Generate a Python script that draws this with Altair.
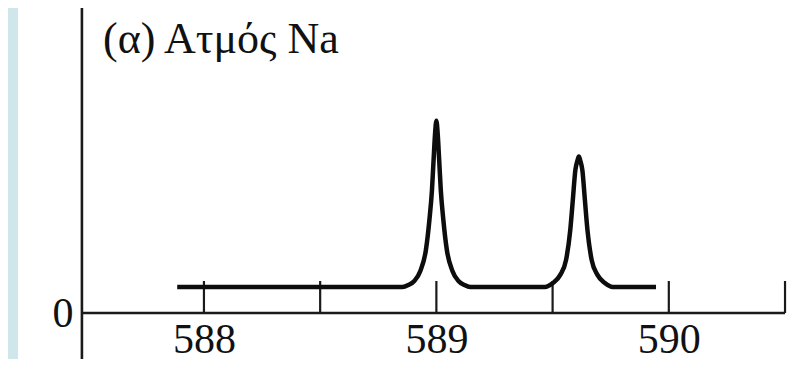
import altair as alt
import pandas as pd

# ---- data ----
wavelength = [587.885, 588.854, 588.880, 588.905, 588.931, 588.955, 588.970, 588.981,
              588.988, 588.994, 589.000, 589.006, 589.012, 589.019, 589.030, 589.045,
              589.069, 589.095, 589.120, 589.146,
              589.467, 589.501, 589.533, 589.558, 589.576, 589.587, 589.598, 589.607,
              589.613, 589.619, 589.628, 589.639, 589.650, 589.668, 589.693, 589.725,
              589.759, 589.945]
intensity = [0.85, 0.85, 0.92, 1.05, 1.38, 2.07, 3.05, 4.03,
             5.02, 5.84, 6.30, 5.84, 5.02, 4.03, 3.05, 2.07,
             1.38, 1.05, 0.92, 0.85,
             0.85, 0.98, 1.25, 1.74, 2.72, 3.70, 4.69, 5.00,
             5.13, 5.00, 4.69, 3.70, 2.72, 1.74, 1.25, 0.98,
             0.85, 0.85]

tick_positions = [588.0, 588.5, 589.0, 589.5, 590.0, 590.5]
tick_height = 1.05
label_values = [588, 589, 590]
axis_start = 587.475
axis_end = 590.5
y_axis_bottom = -1.6
y_axis_top = 10.0
title_text = "(α) Ατμός Na"

spectrum = pd.DataFrame({"x": wavelength, "y": intensity})
ticks = pd.DataFrame({"x": tick_positions, "y": [0.0] * len(tick_positions),
                      "y2": [tick_height] * len(tick_positions)})
x_axis_line = pd.DataFrame({"x": [axis_start], "x2": [axis_end], "y": [0.0]})
y_axis_line = pd.DataFrame({"x": [axis_start], "y": [y_axis_bottom], "y2": [y_axis_top]})

FONT = "Liberation Serif"
INK = "#1a1a1a"

xscale = alt.Scale(domain=[587.2, 590.53], nice=False, zero=False)
yscale = alt.Scale(domain=[-1.508, 10], nice=False, zero=False)

xaxis = alt.Axis(values=label_values, format="d", title=None, domain=False, ticks=False,
                 grid=False, labelFont=FONT, labelFontSize=42, labelColor="#111",
                 labelPadding=6, labelFlush=False, offset=-46)
yaxis = alt.Axis(values=[0], format="d", title=None, domain=False, ticks=False,
                 grid=False, labelFont=FONT, labelFontSize=42, labelColor="#111",
                 labelPadding=9, offset=-64, labelBaseline="middle")

X = alt.X("x:Q", scale=xscale, axis=xaxis)
Y = alt.Y("y:Q", scale=yscale, axis=yaxis)

line = alt.Chart(spectrum).mark_line(
    color="#0d0d0d", strokeWidth=4.5, interpolate="monotone", strokeJoin="round"
).encode(x=X, y=Y)

tick_marks = alt.Chart(ticks).mark_rule(color=INK, strokeWidth=2.2).encode(
    x=X, y=Y, y2="y2:Q")

xline = alt.Chart(x_axis_line).mark_rule(color=INK, strokeWidth=2.6).encode(
    x=X, x2="x2:Q", y=Y)

yline = alt.Chart(y_axis_line).mark_rule(color=INK, strokeWidth=2.6).encode(
    x=X, y=Y, y2="y2:Q")

chart = alt.layer(xline, yline, tick_marks, line).properties(
    width=774,
    height=351,
    autosize=alt.AutoSizeParams(type="none"),
    padding={"left": 10, "top": 0, "right": 0, "bottom": 0},
    background="#cfe6ea",
    title=alt.TitleParams(text=title_text, anchor="start", frame="group", orient="top",
                          offset=0, dx=85, dy=90, baseline="alphabetic", font=FONT,
                          fontSize=44, fontWeight="normal", color="#111"),
).configure_view(fill="white", strokeWidth=0)

chart.save("out.html", embed_options={"renderer": "svg", "actions": False})
